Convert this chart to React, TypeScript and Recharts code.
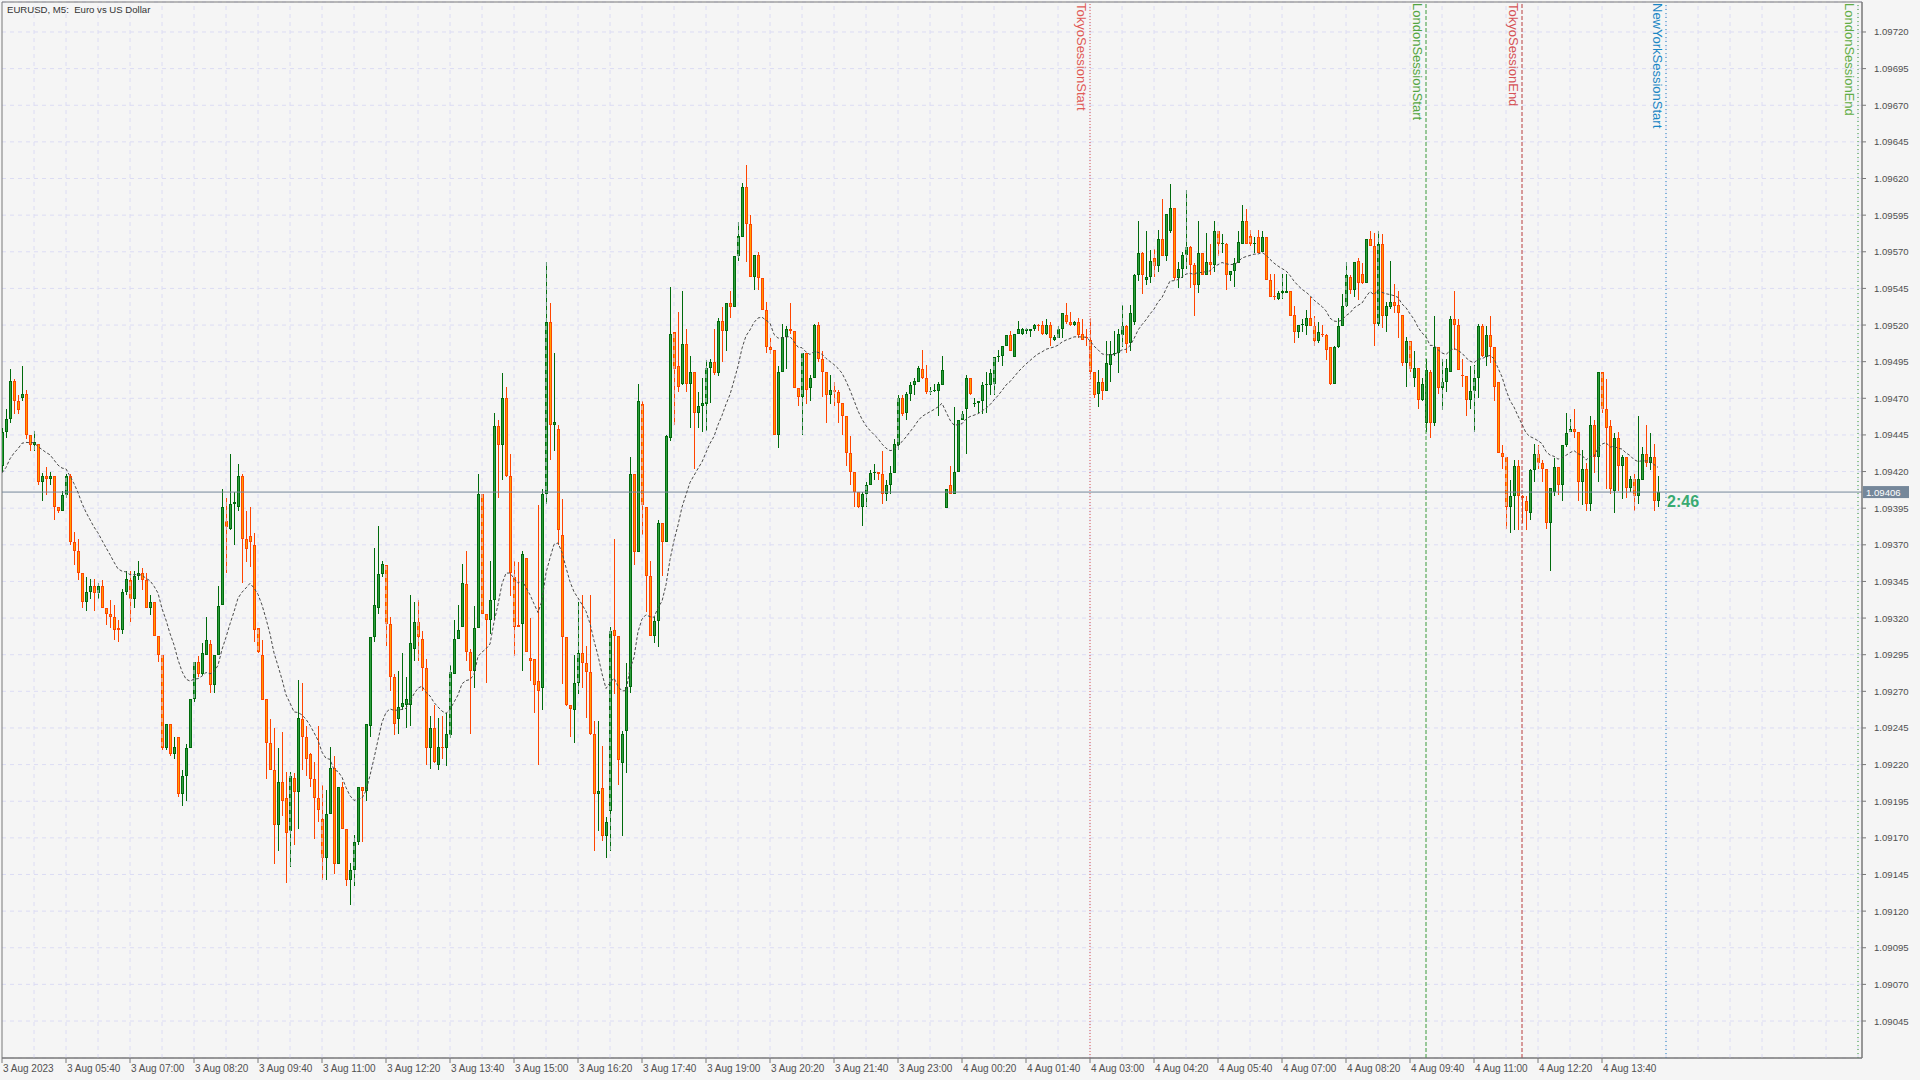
import React from 'react';
import { ComposedChart, Bar, Line, XAxis, YAxis, CartesianGrid, ReferenceLine, ReferenceArea, ReferenceDot } from 'recharts';

// EURUSD M5, one entry per bar, bar 0 = 3 Aug 04:20
const open = [
  1.09424, 1.09447, 1.09456, 1.09482, 1.09468, 1.09470, 1.09473, 1.09445, 1.09438, 1.09439,
  1.09413, 1.09417, 1.09415, 1.09417, 1.09396, 1.09393, 1.09404, 1.09417, 1.09372, 1.09366,
  1.09351, 1.09331, 1.09338, 1.09342, 1.09337, 1.09342, 1.09327, 1.09323, 1.09321, 1.09313,
  1.09312, 1.09338, 1.09346, 1.09333, 1.09349, 1.09351, 1.09346, 1.09327, 1.09331, 1.09308,
  1.09295, 1.09231, 1.09248, 1.09227, 1.09239, 1.09200, 1.09212, 1.09231, 1.09265, 1.09290,
  1.09282, 1.09295, 1.09302, 1.09274, 1.09295, 1.09329, 1.09386, 1.09381, 1.09398, 1.09396,
  1.09417, 1.09374, 1.09376, 1.09370, 1.09313, 1.09295, 1.09265, 1.09235, 1.09216, 1.09179,
  1.09208, 1.09197, 1.09175, 1.09211, 1.09201, 1.09251, 1.09239, 1.09227, 1.09210, 1.09197,
  1.09183, 1.09156, 1.09186, 1.09218, 1.09152, 1.09205, 1.09176, 1.09141, 1.09148, 1.09167,
  1.09205, 1.09202, 1.09246, 1.09307, 1.09327, 1.09350, 1.09356, 1.09316, 1.09280, 1.09251,
  1.09259, 1.09261, 1.09261, 1.09299, 1.09317, 1.09306, 1.09286, 1.09231, 1.09245, 1.09220,
  1.09232, 1.09231, 1.09240, 1.09282, 1.09306, 1.09314, 1.09343, 1.09297, 1.09284, 1.09313,
  1.09405, 1.09323, 1.09319, 1.09332, 1.09451, 1.09438, 1.09470, 1.09417, 1.09348, 1.09315,
  1.09316, 1.09361, 1.09293, 1.09292, 1.09277, 1.09272, 1.09405, 1.09522, 1.09452, 1.09449,
  1.09377, 1.09307, 1.09261, 1.09257, 1.09276, 1.09296, 1.09289, 1.09283, 1.09241, 1.09200,
  1.09204, 1.09171, 1.09188, 1.09312, 1.09308, 1.09221, 1.09243, 1.09273, 1.09418, 1.09365,
  1.09466, 1.09396, 1.09349, 1.09308, 1.09318, 1.09385, 1.09372, 1.09443, 1.09515, 1.09492,
  1.09480, 1.09507, 1.09480, 1.09488, 1.09460, 1.09465, 1.09466, 1.09491, 1.09495, 1.09487,
  1.09523, 1.09516, 1.09535, 1.09532, 1.09567, 1.09580, 1.09614, 1.09589, 1.09553, 1.09568,
  1.09552, 1.09530, 1.09505, 1.09503, 1.09445, 1.09488, 1.09512, 1.09517, 1.09516, 1.09477,
  1.09471, 1.09501, 1.09477, 1.09484, 1.09520, 1.09497, 1.09488, 1.09472, 1.09476, 1.09474,
  1.09467, 1.09458, 1.09433, 1.09420, 1.09406, 1.09396, 1.09405, 1.09411, 1.09419, 1.09420,
  1.09418, 1.09405, 1.09411, 1.09419, 1.09438, 1.09470, 1.09460, 1.09473, 1.09479, 1.09481,
  1.09490, 1.09484, 1.09474, 1.09475, 1.09475, 1.09479, 1.09395, 1.09411, 1.09405, 1.09420,
  1.09455, 1.09463, 1.09484, 1.09466, 1.09467, 1.09468, 1.09479, 1.09479, 1.09480, 1.09498,
  1.09499, 1.09506, 1.09513, 1.09498, 1.09514, 1.09514, 1.09516, 1.09516, 1.09517, 1.09520,
  1.09520, 1.09514, 1.09520, 1.09510, 1.09511, 1.09517, 1.09527, 1.09522, 1.09520, 1.09522,
  1.09514, 1.09512, 1.09510, 1.09488, 1.09473, 1.09481, 1.09475, 1.09493, 1.09500, 1.09501,
  1.09513, 1.09519, 1.09508, 1.09522, 1.09554, 1.09569, 1.09551, 1.09553, 1.09566, 1.09560,
  1.09579, 1.09567, 1.09584, 1.09600, 1.09552, 1.09558, 1.09568, 1.09573, 1.09561, 1.09547,
  1.09569, 1.09554, 1.09563, 1.09561, 1.09584, 1.09575, 1.09575, 1.09554, 1.09557, 1.09562,
  1.09575, 1.09591, 1.09581, 1.09575, 1.09580, 1.09570, 1.09580, 1.09551, 1.09540, 1.09538,
  1.09542, 1.09542, 1.09543, 1.09527, 1.09515, 1.09520, 1.09519, 1.09525, 1.09519, 1.09509,
  1.09514, 1.09513, 1.09505, 1.09480, 1.09505, 1.09519, 1.09533, 1.09553, 1.09544, 1.09564,
  1.09555, 1.09549, 1.09579, 1.09574, 1.09521, 1.09575, 1.09526, 1.09532, 1.09536, 1.09534,
  1.09527, 1.09494, 1.09509, 1.09484, 1.09491, 1.09469, 1.09453, 1.09488, 1.09453, 1.09505,
  1.09477, 1.09481, 1.09488, 1.09524, 1.09520, 1.09486, 1.09485, 1.09469, 1.09475, 1.09484,
  1.09519, 1.09498, 1.09513, 1.09505, 1.09481, 1.09433, 1.09430, 1.09396, 1.09403, 1.09424,
  1.09403, 1.09400, 1.09392, 1.09421, 1.09432, 1.09426, 1.09422, 1.09385, 1.09406, 1.09423,
  1.09411, 1.09438, 1.09447, 1.09449, 1.09447, 1.09413, 1.09422, 1.09398, 1.09452, 1.09430,
  1.09488, 1.09463, 1.09451, 1.09407, 1.09443, 1.09424, 1.09430, 1.09409, 1.09415, 1.09403,
  1.09414, 1.09432, 1.09426, 1.09430, 1.09400,
];

const high = [
  1.09450, 1.09463, 1.09490, 1.09483, 1.09472, 1.09492, 1.09476, 1.09445, 1.09448, 1.09439,
  1.09419, 1.09423, 1.09420, 1.09417, 1.09396, 1.09407, 1.09418, 1.09418, 1.09379, 1.09374,
  1.09351, 1.09348, 1.09347, 1.09347, 1.09344, 1.09346, 1.09327, 1.09332, 1.09329, 1.09319,
  1.09340, 1.09352, 1.09352, 1.09352, 1.09359, 1.09354, 1.09351, 1.09336, 1.09331, 1.09308,
  1.09295, 1.09248, 1.09248, 1.09239, 1.09239, 1.09216, 1.09234, 1.09265, 1.09290, 1.09294,
  1.09303, 1.09321, 1.09305, 1.09295, 1.09342, 1.09408, 1.09402, 1.09432, 1.09406, 1.09425,
  1.09418, 1.09393, 1.09396, 1.09378, 1.09313, 1.09305, 1.09265, 1.09251, 1.09245, 1.09231,
  1.09242, 1.09215, 1.09215, 1.09214, 1.09278, 1.09276, 1.09246, 1.09228, 1.09222, 1.09246,
  1.09206, 1.09203, 1.09232, 1.09226, 1.09205, 1.09208, 1.09176, 1.09153, 1.09172, 1.09205,
  1.09205, 1.09248, 1.09307, 1.09368, 1.09383, 1.09359, 1.09356, 1.09321, 1.09282, 1.09284,
  1.09296, 1.09280, 1.09336, 1.09331, 1.09332, 1.09311, 1.09292, 1.09253, 1.09261, 1.09252,
  1.09253, 1.09255, 1.09288, 1.09319, 1.09329, 1.09357, 1.09366, 1.09299, 1.09328, 1.09418,
  1.09405, 1.09323, 1.09359, 1.09460, 1.09455, 1.09487, 1.09478, 1.09432, 1.09359, 1.09358,
  1.09366, 1.09361, 1.09320, 1.09292, 1.09397, 1.09408, 1.09563, 1.09535, 1.09501, 1.09452,
  1.09401, 1.09307, 1.09261, 1.09295, 1.09331, 1.09336, 1.09301, 1.09336, 1.09250, 1.09250,
  1.09233, 1.09184, 1.09314, 1.09374, 1.09308, 1.09243, 1.09289, 1.09430, 1.09418, 1.09480,
  1.09468, 1.09396, 1.09359, 1.09321, 1.09387, 1.09385, 1.09445, 1.09546, 1.09515, 1.09529,
  1.09543, 1.09517, 1.09499, 1.09488, 1.09474, 1.09484, 1.09496, 1.09497, 1.09517, 1.09525,
  1.09532, 1.09535, 1.09543, 1.09567, 1.09590, 1.09617, 1.09629, 1.09595, 1.09568, 1.09570,
  1.09552, 1.09536, 1.09511, 1.09503, 1.09492, 1.09521, 1.09519, 1.09535, 1.09516, 1.09477,
  1.09501, 1.09501, 1.09486, 1.09521, 1.09522, 1.09502, 1.09488, 1.09486, 1.09481, 1.09476,
  1.09467, 1.09458, 1.09444, 1.09420, 1.09406, 1.09406, 1.09413, 1.09421, 1.09425, 1.09420,
  1.09434, 1.09414, 1.09424, 1.09442, 1.09472, 1.09472, 1.09474, 1.09481, 1.09484, 1.09492,
  1.09503, 1.09493, 1.09478, 1.09480, 1.09481, 1.09499, 1.09408, 1.09424, 1.09464, 1.09455,
  1.09461, 1.09486, 1.09484, 1.09470, 1.09468, 1.09481, 1.09488, 1.09490, 1.09498, 1.09503,
  1.09506, 1.09513, 1.09516, 1.09514, 1.09523, 1.09518, 1.09518, 1.09517, 1.09521, 1.09521,
  1.09523, 1.09524, 1.09522, 1.09513, 1.09519, 1.09528, 1.09535, 1.09529, 1.09523, 1.09525,
  1.09524, 1.09517, 1.09525, 1.09488, 1.09489, 1.09484, 1.09509, 1.09509, 1.09516, 1.09517,
  1.09534, 1.09520, 1.09534, 1.09555, 1.09591, 1.09570, 1.09584, 1.09571, 1.09572, 1.09585,
  1.09606, 1.09596, 1.09616, 1.09600, 1.09563, 1.09570, 1.09612, 1.09574, 1.09562, 1.09591,
  1.09569, 1.09583, 1.09575, 1.09591, 1.09584, 1.09582, 1.09576, 1.09557, 1.09566, 1.09584,
  1.09602, 1.09599, 1.09585, 1.09580, 1.09585, 1.09584, 1.09580, 1.09555, 1.09555, 1.09543,
  1.09555, 1.09555, 1.09543, 1.09533, 1.09520, 1.09524, 1.09530, 1.09539, 1.09526, 1.09522,
  1.09520, 1.09514, 1.09505, 1.09506, 1.09525, 1.09541, 1.09563, 1.09554, 1.09563, 1.09566,
  1.09562, 1.09579, 1.09584, 1.09583, 1.09584, 1.09582, 1.09536, 1.09564, 1.09548, 1.09543,
  1.09527, 1.09512, 1.09509, 1.09502, 1.09491, 1.09484, 1.09497, 1.09489, 1.09526, 1.09505,
  1.09497, 1.09497, 1.09526, 1.09543, 1.09524, 1.09497, 1.09485, 1.09492, 1.09493, 1.09521,
  1.09521, 1.09519, 1.09526, 1.09505, 1.09481, 1.09438, 1.09430, 1.09414, 1.09428, 1.09428,
  1.09404, 1.09403, 1.09422, 1.09439, 1.09438, 1.09428, 1.09422, 1.09409, 1.09429, 1.09423,
  1.09438, 1.09460, 1.09456, 1.09463, 1.09447, 1.09435, 1.09426, 1.09458, 1.09455, 1.09488,
  1.09488, 1.09483, 1.09455, 1.09446, 1.09447, 1.09431, 1.09430, 1.09417, 1.09418, 1.09458,
  1.09437, 1.09452, 1.09446, 1.09439, 1.09417,
];

const low = [
  1.09420, 1.09443, 1.09453, 1.09459, 1.09459, 1.09468, 1.09442, 1.09434, 1.09434, 1.09411,
  1.09400, 1.09404, 1.09411, 1.09387, 1.09392, 1.09393, 1.09402, 1.09370, 1.09356, 1.09346,
  1.09327, 1.09325, 1.09333, 1.09325, 1.09333, 1.09327, 1.09315, 1.09313, 1.09305, 1.09304,
  1.09309, 1.09336, 1.09317, 1.09327, 1.09346, 1.09339, 1.09327, 1.09322, 1.09308, 1.09290,
  1.09230, 1.09230, 1.09226, 1.09224, 1.09198, 1.09192, 1.09195, 1.09231, 1.09263, 1.09280,
  1.09281, 1.09295, 1.09269, 1.09269, 1.09295, 1.09329, 1.09351, 1.09380, 1.09370, 1.09393,
  1.09344, 1.09358, 1.09355, 1.09304, 1.09296, 1.09264, 1.09210, 1.09216, 1.09152, 1.09161,
  1.09185, 1.09139, 1.09150, 1.09165, 1.09176, 1.09216, 1.09212, 1.09205, 1.09169, 1.09181,
  1.09141, 1.09141, 1.09186, 1.09145, 1.09152, 1.09176, 1.09137, 1.09124, 1.09137, 1.09165,
  1.09167, 1.09195, 1.09239, 1.09304, 1.09323, 1.09348, 1.09301, 1.09270, 1.09240, 1.09241,
  1.09257, 1.09245, 1.09246, 1.09291, 1.09291, 1.09270, 1.09220, 1.09217, 1.09221, 1.09216,
  1.09224, 1.09219, 1.09238, 1.09282, 1.09306, 1.09314, 1.09291, 1.09241, 1.09272, 1.09313,
  1.09323, 1.09276, 1.09309, 1.09319, 1.09402, 1.09414, 1.09416, 1.09335, 1.09294, 1.09314,
  1.09284, 1.09297, 1.09277, 1.09255, 1.09220, 1.09257, 1.09398, 1.09428, 1.09434, 1.09370,
  1.09275, 1.09260, 1.09239, 1.09235, 1.09268, 1.09272, 1.09252, 1.09240, 1.09161, 1.09175,
  1.09168, 1.09156, 1.09161, 1.09268, 1.09206, 1.09171, 1.09214, 1.09269, 1.09356, 1.09365,
  1.09377, 1.09324, 1.09308, 1.09303, 1.09300, 1.09349, 1.09372, 1.09441, 1.09452, 1.09474,
  1.09479, 1.09474, 1.09450, 1.09422, 1.09450, 1.09447, 1.09448, 1.09467, 1.09486, 1.09485,
  1.09495, 1.09502, 1.09525, 1.09532, 1.09564, 1.09580, 1.09563, 1.09553, 1.09544, 1.09544,
  1.09530, 1.09501, 1.09500, 1.09445, 1.09436, 1.09488, 1.09490, 1.09514, 1.09477, 1.09465,
  1.09445, 1.09466, 1.09468, 1.09484, 1.09495, 1.09471, 1.09453, 1.09466, 1.09465, 1.09453,
  1.09445, 1.09424, 1.09411, 1.09396, 1.09395, 1.09383, 1.09396, 1.09411, 1.09414, 1.09414,
  1.09398, 1.09400, 1.09405, 1.09419, 1.09435, 1.09458, 1.09455, 1.09468, 1.09472, 1.09481,
  1.09483, 1.09473, 1.09472, 1.09474, 1.09458, 1.09479, 1.09395, 1.09405, 1.09405, 1.09420,
  1.09455, 1.09432, 1.09472, 1.09464, 1.09460, 1.09459, 1.09460, 1.09472, 1.09472, 1.09495,
  1.09492, 1.09506, 1.09502, 1.09498, 1.09514, 1.09513, 1.09514, 1.09512, 1.09516, 1.09516,
  1.09513, 1.09513, 1.09506, 1.09509, 1.09511, 1.09511, 1.09521, 1.09519, 1.09519, 1.09511,
  1.09510, 1.09506, 1.09483, 1.09470, 1.09464, 1.09469, 1.09475, 1.09481, 1.09499, 1.09487,
  1.09505, 1.09501, 1.09502, 1.09520, 1.09550, 1.09541, 1.09547, 1.09549, 1.09553, 1.09556,
  1.09567, 1.09564, 1.09583, 1.09551, 1.09545, 1.09552, 1.09558, 1.09545, 1.09526, 1.09542,
  1.09554, 1.09554, 1.09554, 1.09556, 1.09567, 1.09569, 1.09544, 1.09550, 1.09546, 1.09562,
  1.09575, 1.09575, 1.09574, 1.09569, 1.09569, 1.09570, 1.09551, 1.09539, 1.09537, 1.09537,
  1.09538, 1.09542, 1.09526, 1.09508, 1.09511, 1.09515, 1.09513, 1.09519, 1.09506, 1.09508,
  1.09512, 1.09496, 1.09479, 1.09480, 1.09504, 1.09519, 1.09532, 1.09541, 1.09539, 1.09537,
  1.09548, 1.09549, 1.09574, 1.09506, 1.09519, 1.09518, 1.09515, 1.09531, 1.09528, 1.09511,
  1.09492, 1.09478, 1.09488, 1.09478, 1.09463, 1.09468, 1.09447, 1.09443, 1.09451, 1.09473,
  1.09462, 1.09474, 1.09488, 1.09503, 1.09489, 1.09478, 1.09458, 1.09463, 1.09447, 1.09470,
  1.09498, 1.09492, 1.09494, 1.09468, 1.09433, 1.09422, 1.09381, 1.09378, 1.09380, 1.09380,
  1.09385, 1.09380, 1.09387, 1.09413, 1.09422, 1.09413, 1.09381, 1.09352, 1.09403, 1.09404,
  1.09400, 1.09437, 1.09447, 1.09443, 1.09400, 1.09397, 1.09393, 1.09393, 1.09419, 1.09413,
  1.09460, 1.09408, 1.09405, 1.09392, 1.09407, 1.09401, 1.09402, 1.09406, 1.09393, 1.09398,
  1.09414, 1.09423, 1.09421, 1.09393, 1.09396,
];

const close = [
  1.09447, 1.09456, 1.09482, 1.09468, 1.09462, 1.09473, 1.09445, 1.09438, 1.09440, 1.09413,
  1.09417, 1.09415, 1.09417, 1.09396, 1.09393, 1.09404, 1.09417, 1.09372, 1.09366, 1.09351,
  1.09331, 1.09338, 1.09342, 1.09337, 1.09342, 1.09327, 1.09323, 1.09321, 1.09312, 1.09312,
  1.09338, 1.09347, 1.09333, 1.09349, 1.09351, 1.09346, 1.09327, 1.09331, 1.09308, 1.09295,
  1.09231, 1.09248, 1.09227, 1.09232, 1.09200, 1.09212, 1.09231, 1.09265, 1.09290, 1.09282,
  1.09296, 1.09305, 1.09274, 1.09295, 1.09328, 1.09396, 1.09382, 1.09398, 1.09399, 1.09417,
  1.09374, 1.09367, 1.09372, 1.09312, 1.09297, 1.09264, 1.09235, 1.09216, 1.09179, 1.09208,
  1.09195, 1.09173, 1.09212, 1.09201, 1.09252, 1.09239, 1.09224, 1.09210, 1.09197, 1.09189,
  1.09156, 1.09186, 1.09218, 1.09152, 1.09205, 1.09176, 1.09141, 1.09148, 1.09167, 1.09205,
  1.09202, 1.09248, 1.09307, 1.09329, 1.09350, 1.09357, 1.09316, 1.09280, 1.09248, 1.09259,
  1.09262, 1.09265, 1.09303, 1.09317, 1.09307, 1.09286, 1.09231, 1.09245, 1.09222, 1.09232,
  1.09231, 1.09241, 1.09283, 1.09306, 1.09312, 1.09344, 1.09297, 1.09284, 1.09313, 1.09405,
  1.09323, 1.09319, 1.09332, 1.09451, 1.09438, 1.09470, 1.09417, 1.09351, 1.09314, 1.09314,
  1.09364, 1.09297, 1.09291, 1.09274, 1.09270, 1.09405, 1.09522, 1.09452, 1.09454, 1.09380,
  1.09307, 1.09261, 1.09258, 1.09276, 1.09296, 1.09289, 1.09283, 1.09241, 1.09200, 1.09202,
  1.09171, 1.09181, 1.09311, 1.09308, 1.09223, 1.09241, 1.09273, 1.09418, 1.09365, 1.09468,
  1.09397, 1.09349, 1.09308, 1.09318, 1.09385, 1.09372, 1.09444, 1.09514, 1.09490, 1.09478,
  1.09507, 1.09480, 1.09488, 1.09460, 1.09465, 1.09467, 1.09491, 1.09495, 1.09487, 1.09523,
  1.09516, 1.09535, 1.09532, 1.09567, 1.09581, 1.09614, 1.09589, 1.09553, 1.09568, 1.09552,
  1.09530, 1.09505, 1.09503, 1.09445, 1.09488, 1.09512, 1.09517, 1.09516, 1.09477, 1.09471,
  1.09501, 1.09476, 1.09484, 1.09520, 1.09497, 1.09488, 1.09472, 1.09476, 1.09474, 1.09467,
  1.09458, 1.09433, 1.09420, 1.09406, 1.09396, 1.09405, 1.09411, 1.09419, 1.09420, 1.09418,
  1.09405, 1.09411, 1.09419, 1.09439, 1.09470, 1.09459, 1.09473, 1.09479, 1.09482, 1.09491,
  1.09484, 1.09474, 1.09475, 1.09476, 1.09480, 1.09489, 1.09408, 1.09405, 1.09420, 1.09455,
  1.09459, 1.09484, 1.09473, 1.09467, 1.09468, 1.09479, 1.09480, 1.09487, 1.09498, 1.09499,
  1.09506, 1.09513, 1.09502, 1.09514, 1.09517, 1.09517, 1.09517, 1.09517, 1.09520, 1.09519,
  1.09514, 1.09520, 1.09511, 1.09512, 1.09517, 1.09528, 1.09522, 1.09520, 1.09522, 1.09513,
  1.09510, 1.09511, 1.09488, 1.09472, 1.09481, 1.09475, 1.09494, 1.09500, 1.09501, 1.09514,
  1.09519, 1.09507, 1.09528, 1.09554, 1.09569, 1.09554, 1.09553, 1.09564, 1.09560, 1.09579,
  1.09567, 1.09596, 1.09600, 1.09552, 1.09558, 1.09568, 1.09573, 1.09561, 1.09547, 1.09569,
  1.09554, 1.09563, 1.09561, 1.09584, 1.09575, 1.09576, 1.09554, 1.09557, 1.09562, 1.09577,
  1.09591, 1.09575, 1.09575, 1.09576, 1.09569, 1.09580, 1.09551, 1.09539, 1.09539, 1.09542,
  1.09543, 1.09543, 1.09526, 1.09515, 1.09520, 1.09521, 1.09525, 1.09519, 1.09509, 1.09515,
  1.09513, 1.09503, 1.09480, 1.09505, 1.09519, 1.09533, 1.09554, 1.09544, 1.09563, 1.09549,
  1.09549, 1.09579, 1.09574, 1.09521, 1.09575, 1.09526, 1.09533, 1.09536, 1.09533, 1.09528,
  1.09494, 1.09509, 1.09490, 1.09491, 1.09469, 1.09480, 1.09489, 1.09453, 1.09505, 1.09477,
  1.09481, 1.09491, 1.09524, 1.09520, 1.09489, 1.09485, 1.09469, 1.09475, 1.09484, 1.09519,
  1.09499, 1.09513, 1.09505, 1.09478, 1.09433, 1.09430, 1.09396, 1.09403, 1.09424, 1.09403,
  1.09402, 1.09393, 1.09421, 1.09432, 1.09426, 1.09422, 1.09385, 1.09409, 1.09423, 1.09411,
  1.09438, 1.09446, 1.09449, 1.09447, 1.09413, 1.09422, 1.09398, 1.09452, 1.09430, 1.09488,
  1.09463, 1.09450, 1.09408, 1.09443, 1.09424, 1.09430, 1.09409, 1.09415, 1.09403, 1.09415,
  1.09432, 1.09426, 1.09430, 1.09400, 1.09406,
];

// time axis labels, one every 16 bars
const timeLabels = [
  '3 Aug 2023', '3 Aug 05:40', '3 Aug 07:00', '3 Aug 08:20', '3 Aug 09:40', '3 Aug 11:00',
  '3 Aug 12:20', '3 Aug 13:40', '3 Aug 15:00', '3 Aug 16:20', '3 Aug 17:40', '3 Aug 19:00',
  '3 Aug 20:20', '3 Aug 21:40', '3 Aug 23:00', '4 Aug 00:20', '4 Aug 01:40', '4 Aug 03:00',
  '4 Aug 04:20', '4 Aug 05:40', '4 Aug 07:00', '4 Aug 08:20', '4 Aug 09:40', '4 Aug 11:00',
  '4 Aug 12:20', '4 Aug 13:40',
];

const priceTicks = [
  1.09045, 1.09070, 1.09095, 1.09120, 1.09145, 1.09170, 1.09195, 1.09220, 1.09245, 1.09270,
  1.09295, 1.09320, 1.09345, 1.09370, 1.09395, 1.09420, 1.09445, 1.09470, 1.09495, 1.09520,
  1.09545, 1.09570, 1.09595, 1.09620, 1.09645, 1.09670, 1.09695, 1.09720,
];

// session markers: bar index where each line sits
const sessionNames = ['TokyoSessionStart', 'LondonSessionStart', 'TokyoSessionEnd', 'NewYorkSessionStart', 'LondonSessionEnd'];
const sessionBars = [272, 356, 380, 416, 464];

const countdown = '2:46';
// exponential moving average of the closes; its value just before bar 0
const MA_PERIOD = 19;
const maSeed = 1.09416;

const sessionStyle: Record<string, { line: string; text: string; dash: string }> = {
  TokyoSessionStart: { line: '#d9534f', text: '#e05a56', dash: '1 2' },
  LondonSessionStart: { line: '#3a9a3a', text: '#52a540', dash: '4 2' },
  TokyoSessionEnd: { line: '#b83c3c', text: '#d65356', dash: '4 2' },
  NewYorkSessionStart: { line: '#1b7fc0', text: '#1a86c4', dash: '1 3' },
  LondonSessionEnd: { line: '#2f9a2f', text: '#62ad45', dash: '1 3' },
};

const Y_MIN = 1.0901975;
const Y_MAX = 1.0974047;
const X_MAX = 465;
const BG = '#f5f5f5';
const AXIS = '#787878';
const GRID = '#dcdcf4';
const LABEL = '#505050';
const FONT = '"Liberation Sans", Arial, sans-serif';

const alpha = 2 / (MA_PERIOD + 1);
let emaPrev = maSeed;
const data = open.map((o, i) => {
  const c = close[i];
  emaPrev = emaPrev + alpha * (c - emaPrev);
  return {
    i,
    o,
    c,
    h: Math.max(high[i], o, c),
    l: Math.min(low[i], o, c),
    ma: emaPrev,
  };
});

const lastClose = close[close.length - 1];
const gridBars = Array.from({ length: 58 }, (_, k) => (k + 1) * 8);

const Candle = (props: any) => {
  const { x, y, width, height, payload } = props;
  if (x == null || y == null || !payload) return null;
  const { o, h, l, c } = payload;
  const top = Math.min(y, y + height);
  const bot = Math.max(y, y + height);
  const k = h > l ? (bot - top) / (h - l) : 0;
  const cx = Math.round(x + width / 2);
  const bull = c >= o;
  const yo = top + (h - o) * k;
  const yc = top + (h - c) * k;
  const bt = Math.round(Math.min(yo, yc));
  let bb = Math.round(Math.max(yo, yc));
  if (bb - bt < 1) bb = bt + 1;
  const border = bull ? '#006b0c' : '#ff4500';
  const fill = bull ? '#2e9e3e' : '#ff9d00';
  return (
    <g>
      <rect x={cx} y={Math.round(top)} width={1} height={Math.max(1, Math.round(bot) - Math.round(top))} fill={border} />
      <rect x={cx - 1} y={bt} width={3} height={bb - bt} fill={border} />
      {bb - bt > 2 && <rect x={cx} y={bt + 1} width={1} height={bb - bt - 2} fill={fill} />}
    </g>
  );
};

const TimeTick = (props: any) => {
  const { x, y, payload } = props;
  const label = timeLabels[Math.round(payload.value / 16)];
  return (
    <text x={x + 1} y={y + 8} fill={LABEL} fontSize={10} fontFamily={FONT} textAnchor="start">
      {label}
    </text>
  );
};

const PriceTick = (props: any) => {
  const { x, y, payload } = props;
  return (
    <text x={x} y={y + 3.5} fill={LABEL} fontSize={9.6} fontFamily={FONT} textAnchor="start">
      {payload.value.toFixed(5)}
    </text>
  );
};

const sessionLabel = (name: string) => (p: any) => {
  const vb = p.viewBox || {};
  const st = sessionStyle[name];
  return (
    <text
      x={0}
      y={0}
      transform={`translate(${vb.x - 13},${(vb.y || 2) + 1}) rotate(90)`}
      fill={st.text}
      fontSize={13}
      fontFamily={FONT}
      textAnchor="start"
    >
      {name}
    </text>
  );
};

const priceLabel = (p: any) => {
  const vb = p.viewBox || {};
  const x0 = vb.x + vb.width;
  return (
    <g>
      <rect x={x0 + 1} y={vb.y - 6} width={46} height={12} fill="#75879a" />
      <text x={x0 + 4} y={vb.y + 4} fill="#ffffff" fontSize={9.6} fontFamily={FONT}>
        {lastClose.toFixed(5)}
      </text>
    </g>
  );
};

const Countdown = (p: any) => (
  <text x={p.cx + 1} y={p.cy + 15} fill="#3aaa72" fontSize={16} fontWeight="bold" fontFamily={FONT}>
    {countdown}
  </text>
);

export default function App() {
  return (
    <div style={{ position: 'absolute', left: 0, top: 0, width: 1920, height: 1080, background: BG, overflow: 'hidden' }}>
      <ComposedChart width={1920} height={1080} data={data} margin={{ top: 2, right: 0, bottom: 0, left: 2 }}>
        <CartesianGrid vertical={false} stroke={GRID} strokeDasharray="4 4" />
        {gridBars.map((b) => (
          <ReferenceLine key={'g' + b} x={b} stroke={GRID} strokeDasharray="4 4" />
        ))}
        <XAxis
          dataKey="i"
          type="number"
          domain={[0, X_MAX]}
          ticks={timeLabels.map((_, k) => k * 16)}
          interval={0}
          height={22}
          tickSize={5}
          tickMargin={1}
          axisLine={{ stroke: AXIS }}
          tickLine={{ stroke: AXIS }}
          tick={<TimeTick />}
          allowDataOverflow
        />
        <YAxis
          orientation="right"
          type="number"
          domain={[Y_MIN, Y_MAX]}
          ticks={priceTicks}
          interval={0}
          width={58}
          tickSize={4}
          tickMargin={8}
          axisLine={{ stroke: AXIS }}
          tickLine={{ stroke: AXIS }}
          tick={<PriceTick />}
          allowDataOverflow
        />
        {sessionNames.map((name, k) => (
          <ReferenceLine
            key={name}
            x={sessionBars[k]}
            stroke={sessionStyle[name].line}
            strokeDasharray={sessionStyle[name].dash}
            label={sessionLabel(name)}
          />
        ))}
        <ReferenceLine y={lastClose} stroke="#75879a" label={priceLabel} />
        <Line
          type="linear"
          dataKey="ma"
          stroke="#4a4a4a"
          strokeWidth={1}
          strokeDasharray="3 2"
          dot={false}
          activeDot={false}
          isAnimationActive={false}
        />
        <Bar dataKey={(d: any) => [d.l, d.h]} barSize={3} shape={(p: any) => <Candle {...p} />} isAnimationActive={false} />
        <ReferenceDot x={416} y={lastClose} r={0} shape={Countdown} />
        <ReferenceArea x1={0} x2={X_MAX} y1={Y_MIN} y2={Y_MAX} fill="none" stroke={AXIS} />
      </ComposedChart>
      <div
        style={{
          position: 'absolute',
          left: 7,
          top: 4,
          fontFamily: FONT,
          fontSize: 9.6,
          color: '#333',
          whiteSpace: 'pre',
        }}
      >
        EURUSD, M5:  Euro vs US Dollar
      </div>
    </div>
  );
}
